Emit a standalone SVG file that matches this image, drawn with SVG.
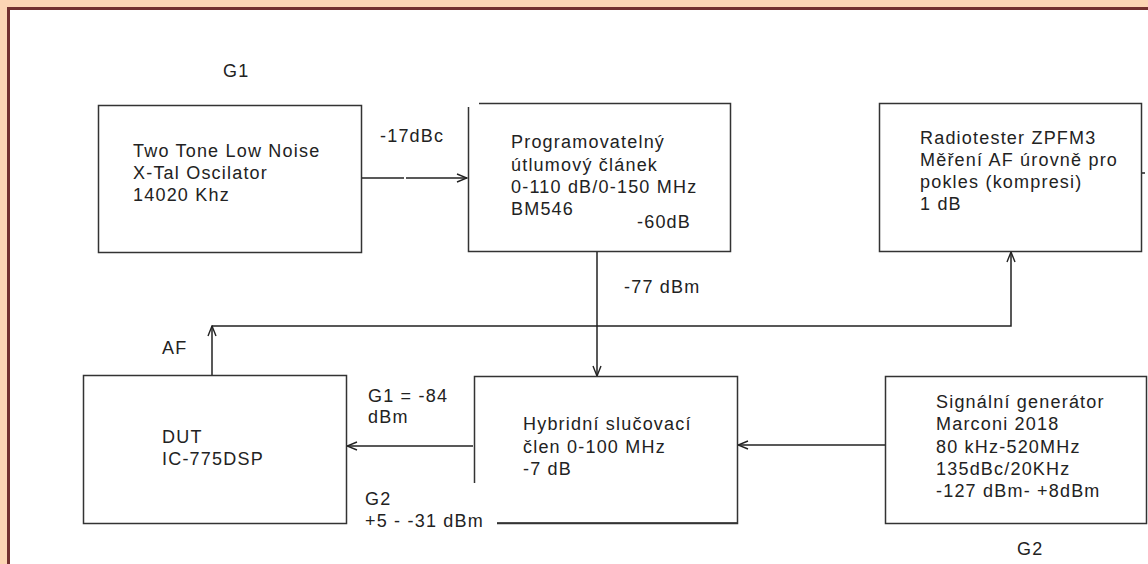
<svg xmlns="http://www.w3.org/2000/svg" width="1148" height="564" viewBox="0 0 1148 564">
<style>
.t{font-family:"Liberation Sans",Arial,sans-serif;font-size:18px;fill:#222;letter-spacing:1.2px}
.b{fill:none;stroke:#333;stroke-width:1.5}
.c{fill:none;stroke:#222;stroke-width:1.5}
</style>
<defs>
<marker id="ah" viewBox="0 0 12 10" refX="11" refY="5" markerWidth="12" markerHeight="10" markerUnits="userSpaceOnUse" orient="auto">
<path d="M1,1 L11,5 L1,9" fill="none" stroke="#222" stroke-width="1.4"/>
</marker>
</defs>
<rect x="0" y="0" width="1148" height="564" fill="#fcd5b4"/>
<rect x="9" y="9" width="1139" height="555" fill="#ffffff"/>
<path d="M8.5,564 V8.5 H1148" fill="none" stroke="#73302f" stroke-width="3"/>

<g id="connectors">
<line class="c" x1="361" y1="178" x2="404" y2="178"/>
<line class="c" x1="406" y1="178" x2="467" y2="178" marker-end="url(#ah)"/>
<line class="c" x1="597" y1="251" x2="597" y2="376" marker-end="url(#ah)"/>
<line class="c" x1="212" y1="375" x2="212" y2="326" marker-end="url(#ah)"/>
<path class="c" d="M212,326 H1011 V252" marker-end="url(#ah)"/>
<line class="c" x1="473" y1="446" x2="347" y2="446" marker-end="url(#ah)"/>
<line class="c" x1="885" y1="445" x2="738" y2="445" marker-end="url(#ah)"/>
<line class="c" x1="1141" y1="173" x2="1145" y2="173"/>
<line class="c" x1="497" y1="523" x2="737" y2="523"/>
</g>

<text class="t" x="223" y="77">G1</text>
<text class="t" x="380" y="142">-17dBc</text>
<text class="t" x="624" y="293">-77 dBm</text>
<text class="t" x="162" y="354">AF</text>
<text class="t" x="368" y="402">G1 = -84</text>
<text class="t" x="368" y="423">dBm</text>
<text class="t" x="365" y="505">G2</text>
<text class="t" x="365" y="527">+5 - -31 dBm</text>
<text class="t" x="1017" y="555">G2</text>

<g id="oscillator">
<rect class="b" x="98.5" y="105.5" width="263" height="147"/>
<text class="t" x="133" y="157">Two Tone Low Noise</text>
<text class="t" x="133" y="179">X-Tal Oscilator</text>
<text class="t" x="133" y="201">14020 Khz</text>
</g>

<g id="attenuator">
<path class="b" d="M479,103.5 H730.5 V251.5 H468.5 V107"/>
<text class="t" x="511" y="148">Programovatelný</text>
<text class="t" x="511" y="171">útlumový článek</text>
<text class="t" x="511" y="193">0-110 dB/0-150 MHz</text>
<text class="t" x="511" y="215">BM546</text>
<text class="t" x="637" y="228">-60dB</text>
</g>

<g id="radiotester">
<rect class="b" x="879.5" y="103.5" width="262" height="148"/>
<text class="t" x="920" y="144">Radiotester ZPFM3</text>
<text class="t" x="920" y="166">Měření AF úrovně pro</text>
<text class="t" x="920" y="188">pokles (kompresi)</text>
<text class="t" x="920" y="210">1 dB</text>
</g>

<g id="dut">
<rect class="b" x="83.5" y="375.5" width="263" height="148"/>
<text class="t" x="162" y="443">DUT</text>
<text class="t" x="162" y="465">IC-775DSP</text>
</g>

<g id="hybrid">
<path class="b" d="M497,523.5 H737.5 V376.5 H474.5 V483"/>
<text class="t" x="523" y="430">Hybridní slučovací</text>
<text class="t" x="523" y="453">člen 0-100 MHz</text>
<text class="t" x="523" y="475">-7 dB</text>
</g>

<g id="siggen">
<rect class="b" x="885.5" y="376.5" width="261" height="147"/>
<text class="t" x="936" y="408">Signální generátor</text>
<text class="t" x="936" y="430">Marconi 2018</text>
<text class="t" x="936" y="453">80 kHz-520MHz</text>
<text class="t" x="936" y="475">135dBc/20KHz</text>
<text class="t" x="936" y="497">-127 dBm- +8dBm</text>
</g>
</svg>
